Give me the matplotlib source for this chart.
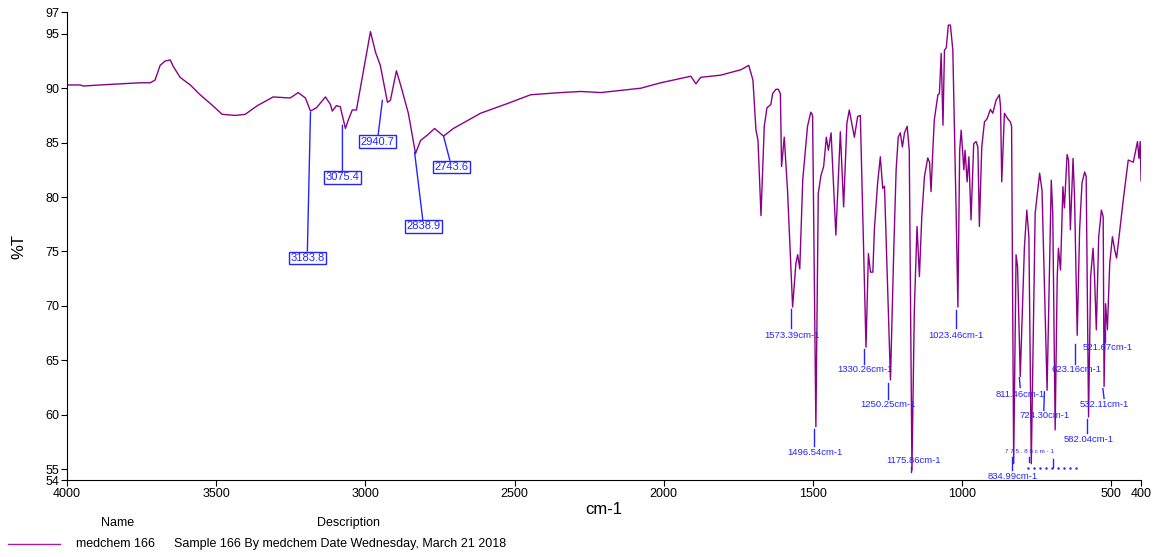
import numpy as np
import matplotlib
matplotlib.use('Agg')
import matplotlib.pyplot as plt
from matplotlib.lines import Line2D

plt.rcParams['font.family'] = ['Liberation Sans', 'DejaVu Sans']

# IR spectrum (wavenumber cm-1, %T)
wavenumber = [4000, 3956, 3946, 3889, 3822, 3755, 3721, 3705, 3688, 3671, 3654, 3644,
              3621, 3587, 3554, 3520, 3480, 3436, 3403, 3362, 3309, 3252, 3225, 3201,
              3184, 3164, 3134, 3117, 3111, 3097, 3084, 3067, 3057, 3044, 3030, 2983,
              2966, 2950, 2926, 2916, 2896, 2882, 2856, 2832, 2815, 2792, 2768, 2738,
              2705, 2614, 2523, 2446, 2345, 2278, 2211, 2144, 2077, 2010, 1943, 1909,
              1892, 1876, 1809, 1741, 1715, 1701, 1691, 1684, 1674, 1663, 1654, 1641,
              1635, 1624, 1616, 1609, 1605, 1596, 1585, 1568, 1557, 1551, 1544, 1534,
              1518, 1507, 1501, 1490, 1482, 1473, 1464, 1455, 1448, 1439, 1423, 1408,
              1397, 1386, 1378, 1372, 1361, 1350, 1341, 1322, 1314, 1307, 1299, 1294,
              1283, 1274, 1266, 1260, 1240, 1229, 1221, 1214, 1207, 1200, 1193, 1184,
              1177, 1168, 1160, 1151, 1143, 1135, 1126, 1115, 1109, 1104, 1098, 1093,
              1081, 1076, 1070, 1064, 1059, 1053, 1046, 1039, 1031, 1020, 1014, 1008,
              1003, 994, 990, 983, 977, 970, 961, 953, 947, 942, 934, 925,
              916, 905, 897, 886, 875, 871, 867, 858, 847, 838, 834, 827,
              819, 814, 805, 791, 783, 776, 768, 755, 740, 732, 715, 710,
              701, 696, 688, 681, 677, 670, 662, 657, 648, 643, 637, 628,
              623, 614, 606, 598, 589, 584, 576, 569, 561, 556, 550, 542,
              533, 527, 524, 519, 513, 505, 496, 488, 482, 471, 459, 443,
              426, 412, 407, 403, 400]
transmittance = [90.3, 90.3, 90.2, 90.3, 90.4, 90.5, 90.5, 90.75, 92.1, 92.5, 92.6, 92.0,
                 91.0, 90.3, 89.4, 88.6, 87.6, 87.5, 87.6, 88.4, 89.2, 89.1, 89.6, 89.1,
                 87.9, 88.2, 89.2, 88.5, 87.9, 88.4, 88.3, 86.3, 87.1, 88.0, 88.0, 95.2,
                 93.3, 92.1, 88.7, 88.9, 91.6, 90.3, 87.7, 84.0, 85.2, 85.7, 86.3, 85.6,
                 86.3, 87.7, 88.6, 89.4, 89.6, 89.7, 89.6, 89.8, 90.0, 90.5, 90.9, 91.1,
                 90.4, 91.0, 91.2, 91.7, 92.1, 90.75, 86.2, 85.2, 78.3, 86.5, 88.2, 88.5,
                 89.5, 89.9, 89.9, 89.5, 82.8, 85.5, 80.6, 69.9, 73.9, 74.7, 73.4, 81.6,
                 86.5, 87.8, 87.5, 58.9, 80.3, 82.0, 82.8, 85.5, 84.3, 85.9, 76.5, 86.0,
                 79.1, 86.8, 88.0, 87.1, 85.5, 87.4, 87.5, 66.2, 74.8, 73.1, 73.1, 77.0,
                 81.3, 83.7, 80.8, 81.0, 63.2, 75.1, 82.5, 85.5, 85.9, 84.6, 85.9, 86.5,
                 84.3, 54.9, 69.6, 77.3, 72.7, 78.2, 81.9, 83.6, 83.2, 80.5, 84.3, 87.1,
                 89.4, 89.5, 93.2, 86.6, 93.5, 93.7, 95.8, 95.8, 93.5, 78.8, 69.9, 84.3,
                 86.15, 82.5, 84.3, 81.4, 83.7, 77.9, 84.9, 85.1, 84.6, 77.3, 84.6, 86.9,
                 87.2, 88.05, 87.7, 88.9, 89.4, 88.3, 81.4, 87.7, 87.2, 86.9, 86.5, 55.5,
                 74.7, 73.6, 63.5, 75.4, 78.8, 76.35, 55.5, 78.5, 82.2, 80.6, 62.25, 69.3,
                 81.55, 78.5, 58.6, 72.7, 75.3, 73.3, 80.95, 79.0, 83.9, 83.4, 77.0, 83.55,
                 80.0, 67.3, 77.0, 81.3, 82.3, 81.9, 59.8, 72.7, 75.3, 72.7, 67.8, 76.35,
                 78.8, 78.2, 62.6, 70.2, 67.8, 73.9, 76.35, 75.1, 74.4, 77.0, 79.9, 83.4,
                 83.2, 85.1, 83.55, 85.1, 81.5]

# boxed peak labels (upper region)
box_labels = ['3183.8', '3075.4', '2940.7', '2838.9', '2743.6']
box_peak_x = [3184, 3077, 2943, 2835, 2738]
box_peak_y = [87.8, 86.6, 88.9, 84.1, 85.6]
box_text_xy = [(3195, 74.4), (3077, 81.8), (2960, 85.1), (2805, 77.3), (2711, 82.75)]

# small peak labels (fingerprint region)
peak_labels = ['1573.39cm-1', '1496.54cm-1', '1330.26cm-1', '1250.25cm-1', '1175.86cm-1',
               '1023.46cm-1', '834.99cm-1', '811.46cm-1', '724.30cm-1', '623.16cm-1',
               '582.04cm-1', '532.11cm-1', '521.67cm-1']
peak_text_xy = [(1570, 67.3), (1493, 56.55), (1325, 64.2), (1248, 60.9), (1164, 55.8),
                (1020, 67.3), (829, 54.35), (805, 61.9), (725, 59.9), (617, 64.2),
                (577, 57.7), (523, 60.9), (513, 66.2)]
peak_ticks = [((1574, 1574), (69.7, 68.0)), ((1496, 1496), (58.7, 57.1)),
              ((1329, 1329), (66.0, 64.7)), ((1248, 1248), (62.9, 61.4)),
              ((1171, 1171), (55.2, 54.7)), ((1020, 1020), (69.6, 68.0)),
              ((832, 832), (56.1, 54.9)), ((808, 805), (63.4, 62.5)),
              ((724, 726), (62.1, 60.4)), ((620, 620), (66.5, 64.7)),
              ((580, 580), (59.6, 58.3)), ((528, 524), (62.4, 61.5)),
              ((520, 520), (67.8, 66.7))]

purple = '#8b008b'
blue = '#2424ff'

fig = plt.figure(figsize=(11.64, 5.57), dpi=100)
ax = fig.add_axes([0.0576, 0.1382, 0.9227, 0.8402])

ax.plot(wavenumber, transmittance, color=purple, lw=1.0)

for txt, px, py, (tx, ty) in zip(box_labels, box_peak_x, box_peak_y, box_text_xy):
    ax.annotate(txt, xy=(px, py), xytext=(tx, ty), ha='center', va='center',
                color=blue, fontsize=8,
                bbox=dict(boxstyle='square,pad=0.12', fc='white', ec=blue, lw=1),
                arrowprops=dict(arrowstyle='-', color=blue, lw=1, shrinkA=0, shrinkB=0))

for txt, (tx, ty), (xs, ys) in zip(peak_labels, peak_text_xy, peak_ticks):
    ax.plot(xs, ys, color=blue, lw=1)
    ax.text(tx, ty, txt, ha='center', va='center', color=blue, fontsize=6.8, clip_on=False)

# collapsed labels near 775 cm-1
ax.text(775, 56.65, '7 7 5 . 8 6 c m - 1', ha='center', va='center', color=blue, fontsize=4.5)
ax.plot([776, 776], [56.1, 55.7], color=blue, lw=1)
ax.plot([694, 694], [55.9, 55.2], color=blue, lw=1)
ax.plot(np.linspace(778, 617, 9), [55.1] * 9, ls='none', marker='.', ms=1.5, color=blue)

ax.set_xlim(4000, 400)
ax.set_ylim(54, 97)
ax.set_xticks([4000, 3500, 3000, 2500, 2000, 1500, 1000, 500, 400])
ax.set_yticks([54, 55, 60, 65, 70, 75, 80, 85, 90, 95, 97])
ax.tick_params(direction='out', length=4, labelsize=9, pad=1.5)
for s in ['top', 'right']:
    ax.spines[s].set_visible(False)
ax.set_xlabel('cm-1', fontsize=12, labelpad=2)
ax.set_ylabel('%T', fontsize=12, labelpad=14)

# legend table underneath
fig.text(0.101, 0.061, 'Name', ha='center', va='center', fontsize=9)
fig.text(0.299, 0.061, 'Description', ha='center', va='center', fontsize=9)
fig.add_artist(Line2D([8 / 1164, 60 / 1164], [0.0233, 0.0233], color='#a020a0', lw=1))
fig.text(0.0653, 0.0233, 'medchem 166', ha='left', va='center', fontsize=9)
fig.text(0.1495, 0.0233, 'Sample 166 By medchem Date Wednesday, March 21 2018',
         ha='left', va='center', fontsize=9)

fig.savefig('out.png', dpi=100)
